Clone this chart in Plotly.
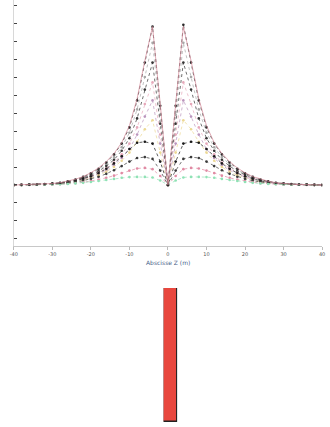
import plotly.graph_objects as go

# Abscissa (m)
x = [-40, -38, -36, -34, -32, -30, -28, -26, -24, -22, -20, -18, -16, -14, -12, -10, -8, -6, -4, -2,
     0, 2, 4, 6, 8, 10, 12, 14, 16, 18, 20, 22, 24, 26, 28, 30, 32, 34, 36, 38, 40]

s1 = [0, 0.01, 0.02, 0.03, 0.05, 0.08, 0.12, 0.2, 0.3, 0.45, 0.65, 0.9, 1.25, 1.7, 2.3, 3.2, 4.7, 6.8, 8.8, 4.4,
      0, 4.4, 8.9, 6.8, 4.7, 3.2, 2.3, 1.7, 1.25, 0.9, 0.65, 0.45, 0.3, 0.2, 0.12, 0.08, 0.05, 0.03, 0.02, 0.01, 0]
s2 = [0, 0.01, 0.02, 0.03, 0.05, 0.08, 0.13, 0.21, 0.32, 0.47, 0.68, 0.95, 1.3, 1.75, 2.35, 3.3, 4.8, 6.9, 8.8, 4.5,
      0, 4.5, 8.8, 6.9, 4.8, 3.3, 2.35, 1.75, 1.3, 0.95, 0.68, 0.47, 0.32, 0.21, 0.13, 0.08, 0.05, 0.03, 0.02, 0.01, 0]
s3 = [0, 0.01, 0.02, 0.03, 0.04, 0.07, 0.11, 0.18, 0.28, 0.42, 0.6, 0.83, 1.15, 1.55, 2.1, 2.9, 4.2, 6.0, 7.9, 3.9,
      0, 3.9, 7.9, 6.0, 4.2, 2.9, 2.1, 1.55, 1.15, 0.83, 0.6, 0.42, 0.28, 0.18, 0.11, 0.07, 0.04, 0.03, 0.02, 0.01, 0]
s4 = [0, 0.01, 0.02, 0.03, 0.04, 0.06, 0.1, 0.17, 0.26, 0.38, 0.55, 0.76, 1.05, 1.4, 1.9, 2.6, 3.7, 5.3, 6.8, 3.4,
      0, 3.4, 6.8, 5.3, 3.7, 2.6, 1.9, 1.4, 1.05, 0.76, 0.55, 0.38, 0.26, 0.17, 0.1, 0.06, 0.04, 0.03, 0.02, 0.01, 0]
s5 = [0, 0.01, 0.01, 0.02, 0.04, 0.06, 0.09, 0.15, 0.23, 0.34, 0.49, 0.68, 0.93, 1.25, 1.7, 2.3, 3.2, 4.5, 5.7, 2.8,
      0, 2.8, 5.7, 4.5, 3.2, 2.3, 1.7, 1.25, 0.93, 0.68, 0.49, 0.34, 0.23, 0.15, 0.09, 0.06, 0.04, 0.02, 0.01, 0.01, 0]
s6 = [0, 0, 0.01, 0.02, 0.03, 0.05, 0.08, 0.13, 0.2, 0.3, 0.43, 0.6, 0.82, 1.1, 1.5, 2.0, 2.8, 3.8, 4.7, 2.3,
      0, 2.3, 4.7, 3.8, 2.8, 2.0, 1.5, 1.1, 0.82, 0.6, 0.43, 0.3, 0.2, 0.13, 0.08, 0.05, 0.03, 0.02, 0.01, 0, 0]
s7 = [0, 0, 0.01, 0.02, 0.03, 0.05, 0.07, 0.12, 0.18, 0.27, 0.39, 0.54, 0.74, 1.0, 1.35, 1.8, 2.4, 3.1, 3.6, 1.8,
      0, 1.8, 3.6, 3.1, 2.4, 1.8, 1.35, 1.0, 0.74, 0.54, 0.39, 0.27, 0.18, 0.12, 0.07, 0.05, 0.03, 0.02, 0.01, 0, 0]
s8 = [0, 0, 0.01, 0.02, 0.04, 0.06, 0.1, 0.15, 0.23, 0.34, 0.48, 0.66, 0.9, 1.2, 1.6, 2.0, 2.35, 2.4, 2.3, 1.3,
      0, 1.3, 2.3, 2.4, 2.35, 2.0, 1.6, 1.2, 0.9, 0.66, 0.48, 0.34, 0.23, 0.15, 0.1, 0.06, 0.04, 0.02, 0.01, 0, 0]
s9 = [0, 0, 0.01, 0.02, 0.03, 0.04, 0.07, 0.1, 0.16, 0.24, 0.34, 0.46, 0.62, 0.82, 1.05, 1.3, 1.5, 1.55, 1.45, 0.8,
      0, 0.8, 1.45, 1.55, 1.5, 1.3, 1.05, 0.82, 0.62, 0.46, 0.34, 0.24, 0.16, 0.1, 0.07, 0.04, 0.03, 0.02, 0.01, 0, 0]
s10 = [0, 0, 0, 0.01, 0.02, 0.03, 0.04, 0.07, 0.1, 0.15, 0.22, 0.3, 0.4, 0.52, 0.66, 0.8, 0.92, 0.95, 0.88, 0.5,
       0, 0.5, 0.88, 0.95, 0.92, 0.8, 0.66, 0.52, 0.4, 0.3, 0.22, 0.15, 0.1, 0.07, 0.04, 0.03, 0.02, 0.01, 0, 0, 0]
s11 = [0, 0, 0.01, 0.01, 0.02, 0.03, 0.04, 0.06, 0.09, 0.12, 0.17, 0.22, 0.28, 0.34, 0.4, 0.44, 0.45, 0.45, 0.42, 0.25,
       0, 0.25, 0.42, 0.45, 0.45, 0.44, 0.4, 0.34, 0.28, 0.22, 0.17, 0.12, 0.09, 0.06, 0.04, 0.03, 0.02, 0.01, 0.01, 0, 0]

series = [s3, s4, s5, s6, s7, s8, s9, s10, s11, s1, s2]
colors = ["#a8a8a8", "#333333", "#e6a8ba", "#bb95bd", "#ecd894", "#1a1a1a", "#3a3a3a",
          "#e08aa3", "#8fe2b5", "#2a2a2a", "#d48697"]
modes = ["lines+markers"] * 10 + ["lines"]

x_ticks = [-40, -30, -20, -10, 0, 10, 20, 30, 40]
x_title = "Abscisse Z (m)"
bar_cat = ["a"]
bar_val = [1]

fig = go.Figure()
for s, c, m in zip(series, colors, modes):
    fig.add_trace(go.Scatter(
        x=x, y=s, mode=m,
        line=dict(color=c, width=0.7, dash="solid" if m == "lines" else "dot"),
        marker=dict(color=c, size=2.6),
        showlegend=False, xaxis="x", yaxis="y"))

fig.add_trace(go.Bar(x=bar_cat, y=bar_val, width=1,
                     marker=dict(color="#e8473e", line=dict(color="#222", width=1.5)),
                     showlegend=False, xaxis="x2", yaxis="y2"))

fig.update_layout(
    width=330, height=427, margin=dict(l=0, r=0, t=0, b=0),
    paper_bgcolor="white", plot_bgcolor="white",
    xaxis=dict(domain=[10/330, 325/330], range=[-40, 40], tickvals=x_ticks,
               ticktext=[str(v) for v in x_ticks],
               showgrid=False, zeroline=False, showline=True, linecolor="#c8c8c8", linewidth=1,
               ticks="outside", ticklen=3, tickcolor="#bbb",
               tickfont=dict(size=5, color="#555", family="DejaVu Sans"), anchor="y"),
    yaxis=dict(domain=[1-246/427, 1], range=[-3.39, 10.28], dtick=1,
               showgrid=False, zeroline=False, showline=True, linecolor="#d8d8d8", linewidth=1,
               ticks="inside", ticklen=3, tickcolor="#444", showticklabels=False, anchor="x"),
    xaxis2=dict(domain=[163/330, 177/330], range=[-0.5, 0.5], visible=False, anchor="y2"),
    yaxis2=dict(domain=[1-422/427, 1-288/427], range=[0, 1], visible=False, anchor="x2"),
    bargap=0,
    annotations=[dict(text=x_title, xref="paper", yref="paper", x=168/330, y=1-262/427,
                      showarrow=False, font=dict(size=6, color="#4a5f8a", family="DejaVu Sans"))],
)

fig.write_html("out.html", config={"displayModeBar": False},
               post_script="document.body.style.margin='0';document.body.style.overflow='hidden';")
